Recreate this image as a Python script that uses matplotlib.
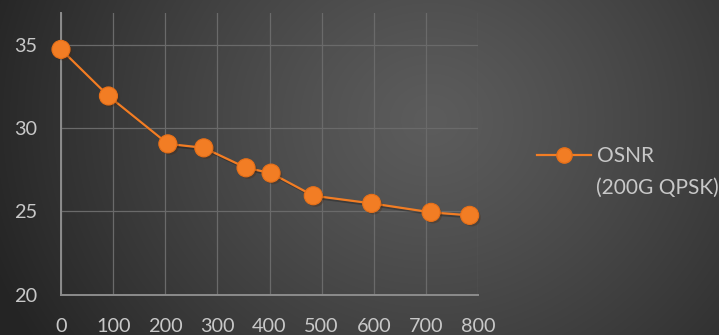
import numpy as np
import matplotlib.pyplot as plt
import matplotlib.patheffects as pe

plt.rcParams['font.family'] = ['Lato', 'DejaVu Sans']

### data
distance = [0, 91, 205, 274, 355, 403, 484, 596, 710, 784]
osnr = [34.74, 31.94, 29.06, 28.82, 27.62, 27.30, 25.94, 25.48, 24.94, 24.76]
x_ticks = [0, 100, 200, 300, 400, 500, 600, 700, 800]
y_ticks = [20, 25, 30, 35]
series_name = 'OSNR'
series_sub = '(200G QPSK)'

orange = '#F27D24'
text_col = '#c8c8c8'

fig = plt.figure(figsize=(7.19, 3.35), dpi=100)

### radial grey background
bg = fig.add_axes([0, 0, 1, 1], zorder=-10)
W, H = 719, 335
xx, yy = np.meshgrid(np.arange(W), np.arange(H))
r = np.sqrt(((xx - 430) / 1.0) ** 2 + ((yy - 120) / 0.9) ** 2) / 470.0
r = np.clip(r, 0, 1)
shade = 0x5c - (0x5c - 0x24) * r ** 1.2
img = np.dstack([shade, shade, shade]) / 255.0
bg.imshow(img, aspect='auto', extent=[0, 1, 0, 1], origin='upper')
bg.axis('off')

### main plot
ax = fig.add_axes([61 / 719, 1 - 294.5 / 335, 417 / 719, 281.5 / 335])
ax.set_facecolor('none')
ax.set_xlim(0, 800)
ax.set_ylim(20, 36.93)
ax.set_xticks(x_ticks)
ax.set_yticks(y_ticks)
ax.tick_params(length=0, labelsize=14.3, labelcolor=text_col)
ax.tick_params(axis='y', pad=17)
ax.tick_params(axis='x', pad=17)

ax.grid(True, color='#6a6a6a', linewidth=0.9)
for s in ['top', 'right']:
    ax.spines[s].set_visible(False)
for s in ['left', 'bottom']:
    ax.spines[s].set_color('#8c8c8c')
    ax.spines[s].set_linewidth(1.4)

ax.plot(distance, osnr, color=orange, linewidth=1.6, zorder=3,
        path_effects=[pe.SimpleLineShadow(offset=(1.5, -1.5), alpha=0.25), pe.Normal()])
ax.plot(distance, osnr, linestyle='none', marker='o', markersize=13,
        markerfacecolor=orange, markeredgecolor='#E87018', markeredgewidth=0.8,
        clip_on=False, zorder=4,
        path_effects=[pe.withSimplePatchShadow(offset=(1.5, -1.5), alpha=0.3)])

### legend
h, = ax.plot([], [], color=orange, linewidth=1.6, marker='o', markersize=11,
             markerfacecolor=orange, markeredgecolor='#E87018', label=series_name)
leg = ax.legend(handles=[h], loc='center left', bbox_to_anchor=(537 / 719, 1 - 156 / 335),
                bbox_transform=fig.transFigure, frameon=False, fontsize=15,
                handlelength=2.6, handletextpad=0.3, borderpad=0, borderaxespad=0)
for t in leg.get_texts():
    t.set_color(text_col)
fig.text(596 / 719, 1 - 188 / 335, series_sub, color=text_col, fontsize=15,
         va='center', ha='left')

fig.savefig('out.png', dpi=100)
